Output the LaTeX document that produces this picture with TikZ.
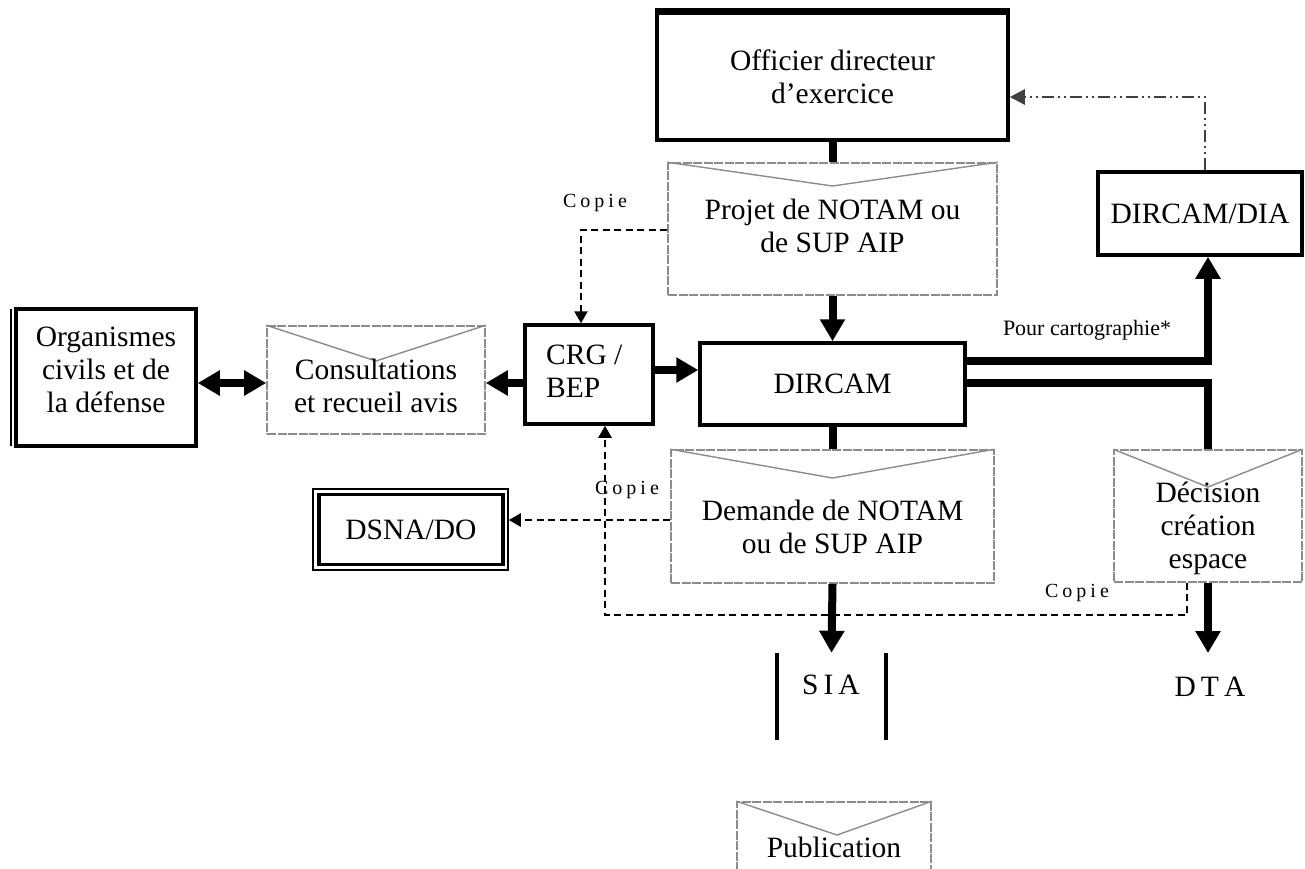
\documentclass[tikz,border=0pt]{standalone}
\usepackage{fontspec}
\setmainfont{Liberation Serif}
\usetikzlibrary{arrows.meta}
\newcommand{\copielabel}{C\kern4pt o\kern4pt p\kern4pt i\kern4pt e}
\begin{document}
\begin{tikzpicture}[x=1pt,y=-1pt,line join=miter,
  txt/.style={font=\fontsize{29.5}{33}\selectfont, align=center, inner sep=0pt},
  small/.style={font=\fontsize{20}{22}\selectfont, inner sep=0pt},
  box/.style={draw, line width=3.5pt, inner sep=0pt},
  env/.style={draw=black!45, line width=1.6pt, inner sep=0pt, dash pattern=on 9pt off 1.5pt},
  flap/.style={draw=black!45, line width=1.4pt},
  thick8/.style={line width=8pt},
  bigtip/.style={-{Triangle[length=22pt,width=24pt]}},
  dbltip/.style={{Triangle[length=22pt,width=24pt]}-{Triangle[length=22pt,width=24pt]}},
  copyline/.style={line width=2.5pt, dash pattern=on 7pt off 4.5pt, -{Triangle[length=12pt,width=13pt]}},
  dashdot/.style={line width=2.5pt, draw=black!75, dash pattern=on 12pt off 4pt on 2pt off 4pt on 2pt off 4pt, -{Triangle[length=15pt,width=15pt]}}
]
\clip (0,0) rectangle (1305,868);
\fill[white] (0,0) rectangle (1305,868);

% Officier
\node[box, minimum width=351pt, minimum height=127pt] (off) at (832.5,76.5) {};
\draw[line width=6pt] (off.north west) -- (off.north east);
\node[txt] (offT) at (832.5,77) {Officier directeur\\d’exercice};

% Projet envelope
\node[env, minimum width=329pt, minimum height=132pt] (proj) at (832.5,229) {};
\draw[flap] (proj.north west) -- (832.5,186) -- (proj.north east);
\node[txt] (projT) at (832.5,226) {Projet de NOTAM ou\\de SUP AIP};

% DIRCAM/DIA
\node[box, txt, minimum width=204pt, minimum height=83pt] (dia) at (1200,213.5) {DIRCAM/DIA};

% Organismes
\node[box, minimum width=180pt, minimum height=137pt] (org) at (106,377.5) {};
\draw[line width=1.5pt] (11,309) -- (11,446);
\node[txt] (orgT) at (106,370) {Organismes\\civils et de\\la défense};

% Consultations envelope
\node[env, minimum width=218pt, minimum height=108pt] (cons) at (376,380) {};
\draw[flap] (cons.north west) -- (376,361) -- (cons.north east);
\node[txt] (consT) at (376,386) {Consultations\\et recueil avis};

% CRG / BEP
\node[box, minimum width=128pt, minimum height=99pt] (crg) at (589,374.5) {};
\node[txt, align=left, anchor=west] (crgT) at (546,371) {CRG /\\BEP};

% DIRCAM
\node[box, txt, minimum width=265pt, minimum height=82pt] (dircam) at (832.5,384) {DIRCAM};

% Demande envelope
\node[env, minimum width=323pt, minimum height=133pt] (dem) at (832.5,516.5) {};
\draw[flap] (dem.north west) -- (832.5,478) -- (dem.north east);
\node[txt] (demT) at (832.5,527) {Demande de NOTAM\\ou de SUP AIP};

% Decision envelope
\node[env, minimum width=188pt, minimum height=132pt] (dec) at (1208,516) {};
\draw[flap] (dec.north west) -- (1208,487) -- (dec.north east);
\node[txt] (decT) at (1208,528) {Décision\\création\\espace};

% DSNA/DO
\node[draw, line width=1.5pt, minimum width=195pt, minimum height=81pt, inner sep=0pt] (dsna) at (410.5,529.5) {};
\node[box, txt, minimum width=184pt, minimum height=70pt] (dsnaIn) at (411,529.5) {DSNA/DO};

% SIA
\node[minimum width=109pt, minimum height=87pt, inner sep=0pt] (sia) at (831.5,696.5) {};
\draw[line width=4pt] (sia.north west) -- (sia.south west);
\draw[line width=4pt] (sia.north east) -- (sia.south east);
\node[txt] (siaT) at (831,685) {S\kern5pt I\kern5pt A};

% DTA
\node[txt] (dta) at (1210,687) {D\kern5pt T\kern5pt A};
\coordinate (dtatip) at (1208,653);

% Publication envelope
\node[env, minimum width=194pt, minimum height=98pt] (pub) at (834,851) {};
\draw[flap] (pub.north west) -- (837,835) -- (pub.north east);
\node[txt] (pubT) at (834,847) {Publication};

% Labels
\node[small] (cop1) at (595,203) {\copielabel};
\node[small] (cop2) at (627,490) {\copielabel};
\node[small] (cop3) at (1077,593) {\copielabel};
\node[font=\fontsize{22}{24}\selectfont, inner sep=0pt] (pc) at (1087,330) {Pour cartographie*};

% Thick connectors
\draw[thick8] (off.south) -- (proj.north);
\draw[thick8,bigtip] (proj.south) -- (dircam.north);
\draw[thick8] (dircam.south) -- (dem.north);
\draw[thick8,bigtip] (dem.south) -- (sia.north);
\coordinate (a1) at (0,370);
\coordinate (a2) at (0,383);
\draw[thick8,bigtip] (crg.east |- a1) -- (dircam.west |- a1);
\draw[thick8,bigtip] (crg.west |- a2) -- (cons.east |- a2);
\draw[thick8,dbltip] (org.east |- a2) -- (cons.west |- a2);
\coordinate (r1) at (1208,361);
\coordinate (r2) at (1208,383);
\draw[thick8,bigtip] (dircam.east |- r1) -- (r1) -- (r1 |- dia.south);
\draw[thick8] (dircam.east |- r2) -- (r2) -- (r2 |- dec.north);
\draw[thick8,bigtip] (dec.south) -- (dtatip);

% Dash-dot
\coordinate (dd) at (1205,97);
\draw[dashdot] (dd |- dia.north) -- (dd) -- (dd -| off.east);

% Copy lines
\coordinate (c1) at (581,230);
\draw[copyline] (proj.west |- c1) -- (c1) -- (c1 |- crg.north);
\coordinate (c2) at (0,520);
\draw[copyline] (dem.west |- c2) -- (dsna.east |- c2);
\coordinate (l1) at (1187,615);
\coordinate (l2) at (605,615);
\draw[copyline] (l1 |- dec.south) -- (l1) -- (l2) -- (l2 |- crg.south);
\end{tikzpicture}
\end{document}
